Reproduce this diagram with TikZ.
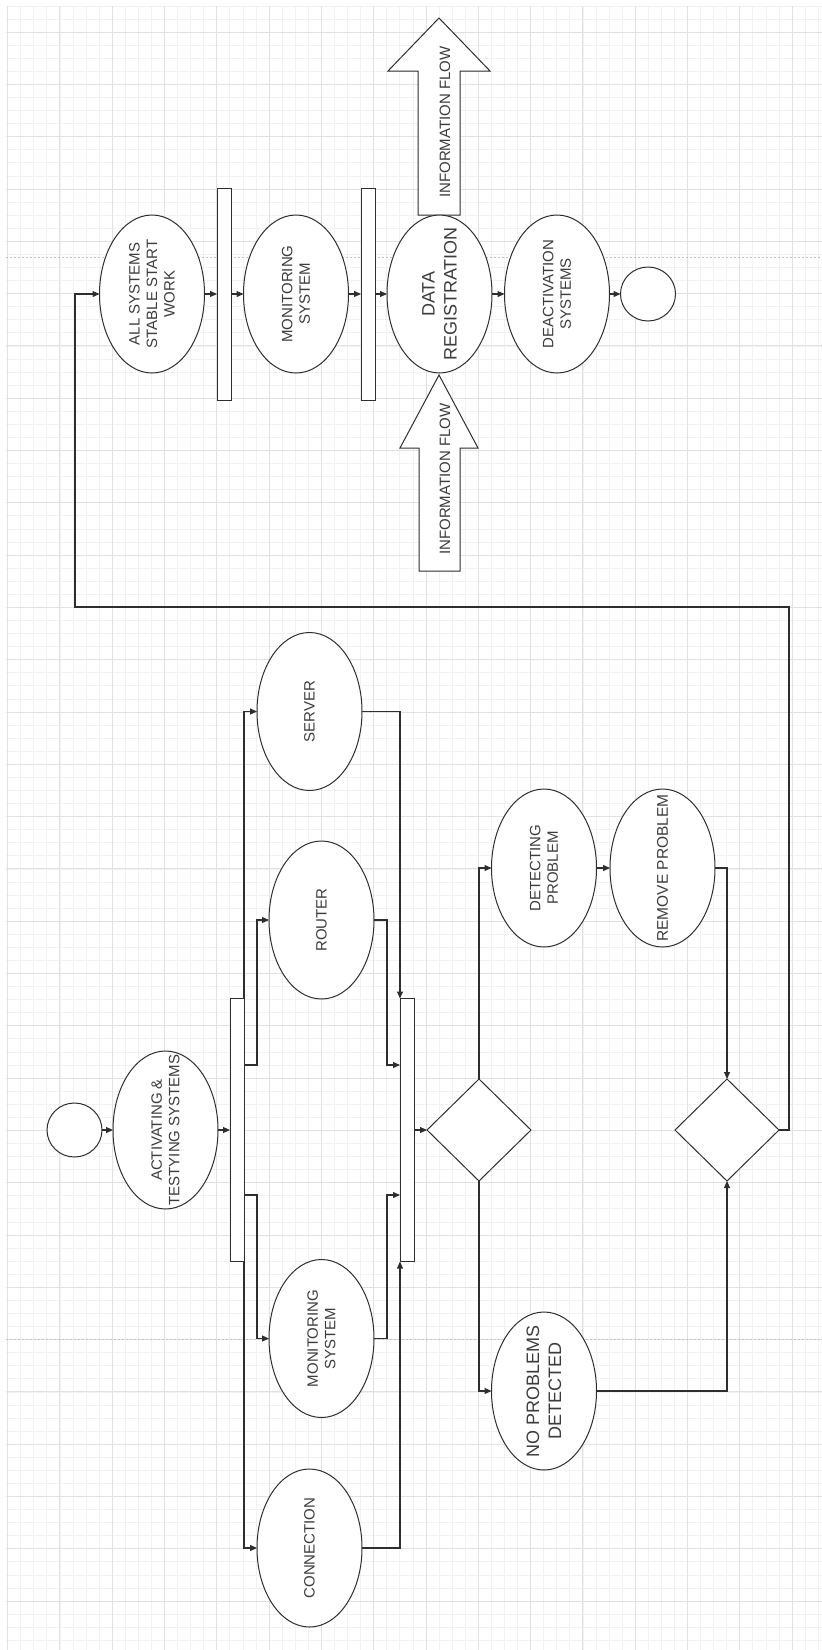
\documentclass[tikz,border=0pt]{standalone}
\usepackage{fontspec}
\setmainfont{Liberation Sans}
\usetikzlibrary{shapes.geometric, arrows.meta}
\definecolor{ink}{HTML}{2E2E2E}
\definecolor{txt}{HTML}{3C3C3C}
\definecolor{gridminor}{HTML}{F2F2F2}
\definecolor{gridmajor}{HTML}{E1E1E1}
\definecolor{pageline}{HTML}{C4C4C4}

\begin{document}
\begin{tikzpicture}[x=1pt, y=-1pt,
  every node/.style={inner sep=0pt, outer sep=0pt},
  state/.style={ellipse, draw=ink, fill=white, line width=1pt, minimum width=105pt, minimum height=158pt},
  terminal/.style={ellipse, draw=ink, fill=white, line width=1pt, minimum width=55pt, minimum height=54pt},
  syncbar/.style={rectangle, draw=ink, fill=white, line width=1pt, minimum width=14pt},
  choice/.style={diamond, draw=ink, fill=white, line width=1pt, minimum width=104pt, minimum height=102pt},
  lbl/.style={rotate=90, align=center, text=txt, font=\fontsize{15}{17.5}\selectfont},
  biglbl/.style={lbl, font=\fontsize{18}{22}\selectfont},
  flow/.style={draw=ink, line width=1.1pt, -{Triangle[length=7pt,width=6pt]}},
  bigarrow/.style={draw=ink, fill=white, line width=1pt, line join=miter}
]
% page and background grid
\useasboundingbox (0,0) rectangle (822,1650);
\fill[white] (0,0) rectangle (822,1650);
\foreach \i in {0,...,62} \draw[gridminor, line width=0.6pt] ({7.5+13.075*\i},6) -- ({7.5+13.075*\i},1650);
\foreach \j in {0,...,125} \draw[gridminor, line width=0.6pt] (6,{5.85+13.075*\j}) -- (822,{5.85+13.075*\j});
\foreach \i in {0,...,15} \draw[gridmajor, line width=0.8pt] ({7.5+52.3*\i},6) -- ({7.5+52.3*\i},1650);
\foreach \j in {0,...,30} \draw[gridmajor, line width=0.8pt] (6,{32+52.3*\j}) -- (822,{32+52.3*\j});
% page break lines
\draw[pageline, line width=0.8pt, dash pattern=on 2pt off 2pt] (6,257) -- (822,257);
\draw[pageline, line width=0.8pt, dash pattern=on 2pt off 2pt] (6,1339) -- (822,1339);

% information flow block arrows
\draw[bigarrow] (418,215) -- (418,71) -- (388,71) -- (439,18) -- (490,71) -- (460,71) -- (460,215) -- cycle;
\draw[bigarrow] (419,571) -- (419,448) -- (400,448) -- (439,375) -- (478,448) -- (460,448) -- (460,571) -- cycle;
\node[lbl] (flowout) at (445,122) {INFORMATION FLOW};
\node[lbl] (flowin) at (445,479) {INFORMATION FLOW};

% upper row: operation
\node[state] (all) at (152,294) {};
\node[lbl] (all-t) at (all) {ALL SYSTEMS\\STABLE START\\WORK};
\node[syncbar, minimum height=212pt] (bar1) at (224,294) {};
\node[state] (mon2) at (296,294) {};
\node[lbl] (mon2-t) at (mon2) {MONITORING\\SYSTEM};
\node[syncbar, minimum height=212pt] (bar2) at (368,294) {};
\node[state] (dr) at (439.5,294) {};
\node[biglbl] (dr-t) at (dr) {DATA\\REGISTRATION};
\node[state] (deact) at (557,294) {};
\node[lbl] (deact-t) at (deact) {DEACTIVATION\\SYSTEMS};
\node[terminal] (endc) at (648,294) {};

% lower part: start-up and testing
\node[terminal] (start) at (74.5,1130) {};
\node[state] (act) at (165.5,1130) {};
\node[lbl] (act-t) at (act) {ACTIVATING \&\\TESTYING SYSTEMS};
\node[syncbar, minimum height=263pt] (fork) at (237,1130) {};
\node[state] (srv) at (309.5,711.5) {};
\node[lbl] (srv-t) at (srv) {SERVER};
\node[state] (rtr) at (321.5,920) {};
\node[lbl] (rtr-t) at (rtr) {ROUTER};
\node[state] (mon) at (321.5,1338.5) {};
\node[lbl] (mon-t) at (mon) {MONITORING\\SYSTEM};
\node[state] (con) at (309.5,1548) {};
\node[lbl] (con-t) at (con) {CONNECTION};
\node[syncbar, minimum height=263pt] (join) at (407,1130) {};
\node[choice] (d1) at (479,1130) {};
\node[state] (det) at (544,868) {};
\node[lbl] (det-t) at (det) {DETECTING\\PROBLEM};
\node[state] (rem) at (662.5,868) {};
\node[lbl, font=\fontsize{15.5}{18}\selectfont] (rem-t) at (rem) {REMOVE PROBLEM};
\node[state] (nop) at (544,1391) {};
\node[biglbl] (nop-t) at (nop) {NO PROBLEMS\\DETECTED};
\node[choice] (d2) at (727,1130) {};

% bend points
\coordinate (forkR) at (244,1065);
\coordinate (forkM) at (244,1195);
\coordinate (joinR) at (400,1065);
\coordinate (joinM) at (400,1195);
\coordinate (loopA) at (789,607);
\coordinate (loopB) at (75,607);

% connectors
\draw[flow] (start.east) -- (act.west);
\draw[flow] (act.east) -- (fork.west);
\draw[flow] (fork.north east) |- (srv.west);
\draw[flow] (forkR) -- ++(13,0) |- (rtr.west);
\draw[flow] (forkM) -- ++(13,0) |- (mon.west);
\draw[flow] (fork.south east) |- (con.west);
\draw[flow] (srv.east) -| (join.north west);
\draw[flow] (rtr.east) -- ++(13,0) |- (joinR);
\draw[flow] (mon.east) -- ++(13,0) |- (joinM);
\draw[flow] (con.east) -| (join.south west);
\draw[flow] (join.east) -- (d1.west);
\draw[flow] (d1.north) |- (det.west);
\draw[flow] (det.east) -- (rem.west);
\draw[flow] (rem.east) -| (d2.north);
\draw[flow] (d1.south) |- (nop.west);
\draw[flow] (nop.east) -| (d2.south);
\draw[flow] (d2.east) -| (loopA) -- (loopB) |- (all.west);
\draw[flow] (all.east) -- (bar1.west);
\draw[flow] (bar1.east) -- (mon2.west);
\draw[flow] (mon2.east) -- (bar2.west);
\draw[flow] (bar2.east) -- (dr.west);
\draw[flow] (dr.east) -- (deact.west);
\draw[flow] (deact.east) -- (endc.west);
\end{tikzpicture}
\end{document}
